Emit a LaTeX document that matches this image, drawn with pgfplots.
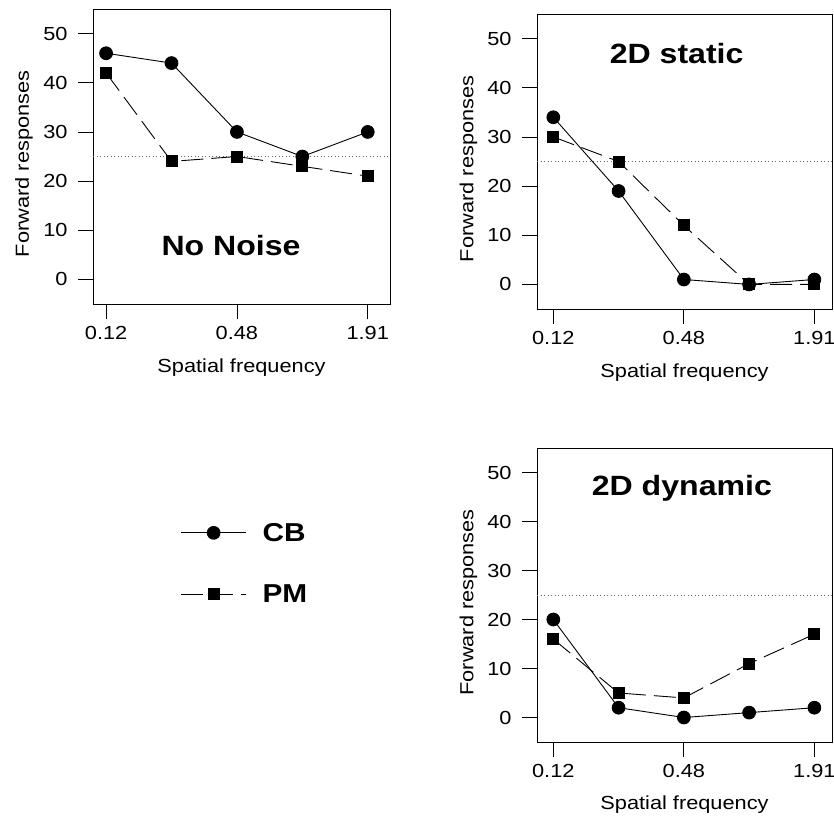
\documentclass[border=0pt]{standalone}
\usepackage{fontspec}
\setmainfont[FakeStretch=1.15]{Liberation Sans}
\usepackage{pgfplots}
\pgfplotsset{compat=1.18}
\tikzset{ptitle/.style={font=\bfseries\fontsize{28}{30}\selectfont}}
\pgfplotsset{
  panel/.style={
    scale only axis, ymin=-5, ymax=55, ytick={0,10,...,50},
    xtick={0,2,4}, xticklabels={0.12,0.48,1.91},
    tick align=outside, major tick length=15bp, tick pos=left,
    axis line style={line width=0.8bp},
    tick style={line width=0.8bp, black},
    every tick label/.append style={font=\fontsize{19}{21}\selectfont},
    yticklabel style={xshift=-7bp},
    xticklabel style={yshift=-4bp},
    /pgf/number format/assume math mode=true,
    label style={font=\fontsize{19}{21}\selectfont},
    xlabel={Spatial frequency}, ylabel={Forward responses},
    xlabel style={at={(axis description cs:0.5,-0.214)}, anchor=center},
    ylabel style={at={(axis description cs:-0.232,0.475)}, anchor=center},
  },
  cb/.style={black, line width=0.9bp, mark=*, mark size=6.4bp, mark options={solid, fill=black}},
  pm/.style={black, line width=0.9bp, dash pattern=on 22bp off 8bp, mark=square*, mark size=5.5bp, mark options={solid, fill=black}},
  chance/.style={black!60, line width=0.6bp, dash pattern=on 1bp off 2.5bp},
}
\begin{document}
\begin{tikzpicture}
\useasboundingbox (0,0) rectangle (834bp,-820bp);
% Panel 1
\begin{axis}[panel, at={(93bp,-304bp)}, anchor=south west, width=297bp, height=295bp, xmin=-0.2, xmax=4.34]
\addplot[chance] coordinates {(-0.2,25) (4.34,25)};
\addplot[cb] coordinates {(0,46) (1,44) (2,30) (3,25) (4,30)};
\addplot[pm] coordinates {(0,42) (1,24) (2,25) (3,23) (4,21)};
\node[ptitle] at (axis cs:1.91,6.9) {No Noise};
\end{axis}
% Panel 2
\begin{axis}[panel, at={(537bp,-309bp)}, anchor=south west, width=295bp, height=295bp, xmin=-0.25, xmax=4.27]
\addplot[chance] coordinates {(-0.25,25) (4.27,25)};
\addplot[cb] coordinates {(0,34) (1,19) (2,1) (3,0) (4,1)};
\addplot[pm] coordinates {(0,30) (1,25) (2,12) (3,0) (4,0)};
\node[ptitle] at (axis cs:1.89,47) {2D static};
\end{axis}
% Panel 3
\begin{axis}[panel, at={(537bp,-742bp)}, anchor=south west, width=295bp, height=294bp, xmin=-0.25, xmax=4.27]
\addplot[chance] coordinates {(-0.25,25) (4.27,25)};
\addplot[cb] coordinates {(0,20) (1,2) (2,0) (3,1) (4,2)};
\addplot[pm] coordinates {(0,16) (1,5) (2,4) (3,11) (4,17)};
\node[ptitle] at (axis cs:1.97,46.8) {2D dynamic};
\end{axis}
% Legend
\begin{axis}[hide axis, scale only axis, width=100bp, height=100bp,
  at={(245bp,-563.5bp)}, anchor=center, xmin=0, xmax=1, ymin=0, ymax=1,
  legend style={draw=none, fill=none, at={(0.5,0.5)}, anchor=center,
    font=\bfseries\fontsize{26}{28}\selectfont, row sep=38bp, column sep=14bp},
  legend cell align=left,
  legend image code/.code={\draw[mark repeat=2, mark phase=2, #1] plot coordinates {(0bp,0bp) (32.5bp,0bp) (65bp,0bp)};}]
\addlegendimage{cb}
\addlegendentry{CB}
\addlegendimage{pm}
\addlegendentry{PM}
\end{axis}
\end{tikzpicture}
\end{document}
